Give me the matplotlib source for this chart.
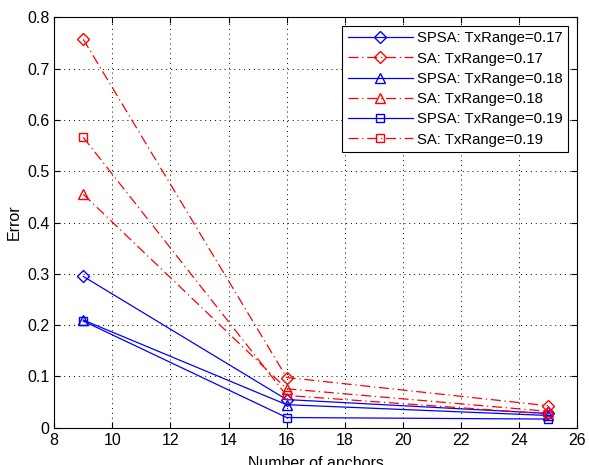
import matplotlib
matplotlib.use('Agg')
import matplotlib.pyplot as plt

plt.rcParams['font.family'] = ['Liberation Sans', 'DejaVu Sans']

anchors = [9, 16, 25]
spsa_017 = [0.295, 0.055, 0.028]
sa_017 = [0.757, 0.098, 0.043]
spsa_018 = [0.210, 0.045, 0.024]
sa_018 = [0.455, 0.076, 0.032]
spsa_019 = [0.208, 0.020, 0.017]
sa_019 = [0.566, 0.063, 0.027]

fig = plt.figure(figsize=(5.89, 4.65), dpi=100)
ax = fig.add_axes([0.092, 0.08, 0.888, 0.883])

dashdot = (0, (8, 3, 1, 3))
ax.plot(anchors, spsa_017, '-', color='blue', marker='D', mfc='none', ms=6, lw=0.9, label='SPSA: TxRange=0.17')
ax.plot(anchors, sa_017, linestyle=dashdot, color='red', marker='D', mfc='none', ms=6, lw=0.9, label='SA: TxRange=0.17')
ax.plot(anchors, spsa_018, '-', color='blue', marker='^', mfc='none', ms=7, lw=0.9, label='SPSA: TxRange=0.18')
ax.plot(anchors, sa_018, linestyle=dashdot, color='red', marker='^', mfc='none', ms=7, lw=0.9, label='SA: TxRange=0.18')
ax.plot(anchors, spsa_019, '-', color='blue', marker='s', mfc='none', ms=6, lw=0.9, label='SPSA: TxRange=0.19')
ax.plot(anchors, sa_019, linestyle=dashdot, color='red', marker='s', mfc='none', ms=6, lw=0.9, label='SA: TxRange=0.19')

ax.set_xlim(8, 26)
ax.set_ylim(0, 0.8)
ax.set_xticks(range(8, 27, 2))
ax.set_yticks([0, 0.1, 0.2, 0.3, 0.4, 0.5, 0.6, 0.7, 0.8])
ax.set_yticklabels(['0', '0.1', '0.2', '0.3', '0.4', '0.5', '0.6', '0.7', '0.8'])
ax.tick_params(direction='in', labelsize=11.5, top=True, right=True, length=4)
ax.grid(True, linestyle=(0, (1, 4)), color='black', lw=0.7)
ax.set_xlabel('Number of anchors', fontsize=11.5, labelpad=6)
ax.set_ylabel('Error', fontsize=11.5)

leg = ax.legend(loc='upper right', fontsize=10.7, fancybox=False, framealpha=1,
                edgecolor='black', handlelength=4.4, borderaxespad=0.6,
                labelspacing=0.42, borderpad=0.35, handletextpad=0.3)
leg.get_frame().set_linewidth(0.8)

fig.savefig('out.png', dpi=100)
